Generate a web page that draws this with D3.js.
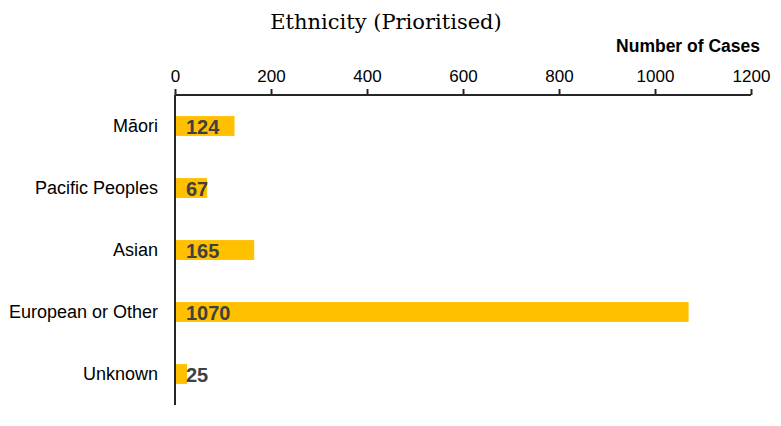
<!DOCTYPE html>
<html><head><meta charset="utf-8">
<script src="https://cdn.jsdelivr.net/npm/d3@7"></script>
<style>body{margin:0;background:#fff}</style>
</head><body>
<script>
const categories = ["Māori","Pacific Peoples","Asian","European or Other","Unknown"];
const values = [124, 67, 165, 1070, 25];
const tickValues = [0,200,400,600,800,1000,1200];
const title = "Ethnicity (Prioritised)";
const axisTitle = "Number of Cases";

const W = 781, H = 426;
const sans = "'Liberation Sans', Arial, sans-serif";
const svg = d3.select("body").append("svg").attr("width", W).attr("height", H);
const x = d3.scaleLinear().domain([0,1200]).range([175, 751]);
const y = d3.scaleBand().domain(categories).range([95, 405]).paddingInner(0.68).paddingOuter(0.34);

svg.append("text").attr("x", 386).attr("y", 29).attr("text-anchor","middle")
  .style("font-family","'DejaVu Serif', Georgia, serif").style("font-size","21px").attr("fill","#000").text(title);
svg.append("text").attr("x", 760).attr("y", 52).attr("text-anchor","end")
  .style("font-family",sans).style("font-weight","bold").style("font-size","17.5px").attr("fill","#000").text(axisTitle);

svg.selectAll("rect.bar").data(values).join("rect").attr("class","bar")
  .attr("x", x(0)).attr("y", (d,i)=>y(categories[i]))
  .attr("width", d=>x(d)-x(0)).attr("height", y.bandwidth()).attr("fill","#FFC000");

const xa = svg.append("g").attr("transform","translate(0,95)")
  .call(d3.axisTop(x).tickValues(tickValues).tickSize(6).tickPadding(7).tickFormat(d3.format("d")));
xa.select(".domain").attr("stroke","#262626").attr("stroke-width",2).attr("d","M175,0H751");
xa.selectAll(".tick line").attr("stroke","#262626").attr("stroke-width",2);
xa.selectAll(".tick text").style("font-family",sans).style("font-size","17px").attr("fill","#000");

const ya = svg.append("g").attr("transform","translate(175,0)")
  .call(d3.axisLeft(y).tickSize(0).tickPadding(17));
ya.select(".domain").attr("stroke","#262626").attr("stroke-width",2).attr("d","M0,95V405");
ya.selectAll(".tick text").style("font-family",sans).style("font-size","18px").attr("fill","#000");

svg.selectAll("text.val").data(values).join("text").attr("class","val")
  .attr("x", x(0)+11).attr("y", (d,i)=>y(categories[i])+y.bandwidth()/2).attr("dy","0.38em")
  .style("font-family",sans).style("font-weight","bold").style("font-size","20px")
  .attr("fill","#404040").text(d=>d);
</script>
</body></html>
